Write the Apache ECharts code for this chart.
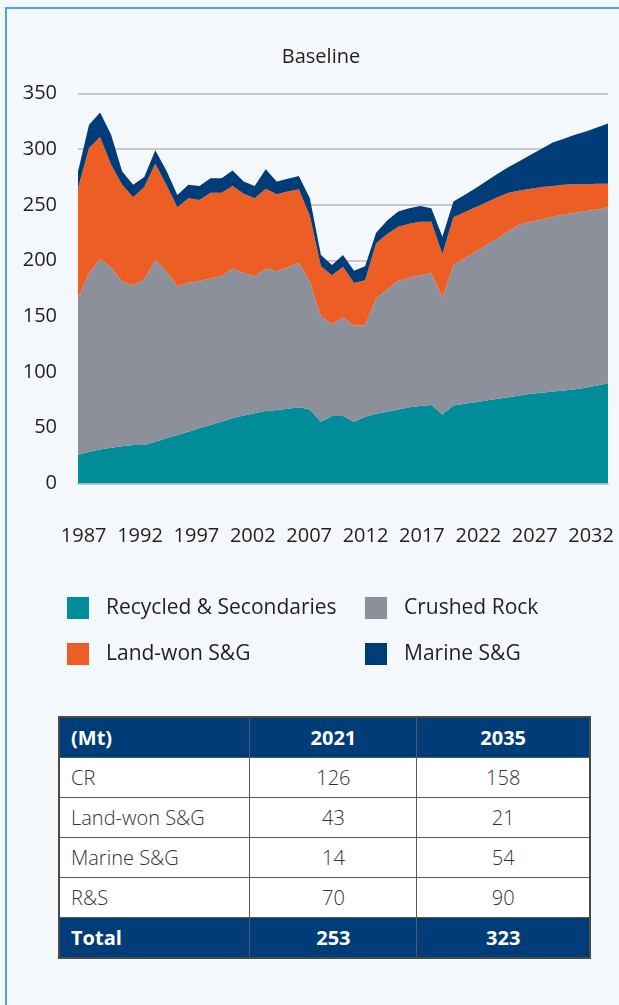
<!DOCTYPE html>
<html>
<head>
<meta charset="utf-8">
<script src="https://cdn.jsdelivr.net/npm/echarts@6/dist/echarts.min.js"></script>
<style>
  html, body { margin: 0; padding: 0; background: #f4f8fb; }
  body { width: 619px; height: 1005px; position: relative; overflow: hidden;
         font-family: 'Open Sans', sans-serif; color: #231f20; }
  .frame { position: absolute; left: 5px; top: 7px; right: -10px; bottom: -10px;
           border-left: 2px solid #4ea4da; border-top: 2px solid #4ea4da; }
  #chart { position: absolute; left: 0; top: 0; width: 619px; height: 700px; }
  table { position: absolute; left: 58px; top: 716px; width: 533px;
          border-collapse: collapse; border: 2px solid #4a4a4a; font-size: 20px; }
  td, th { border: 1.5px solid #5a5a5a; height: 39px; padding: 0 11px; background: #fff;
           font-weight: 300; color: #333; text-align: center; }
  td:first-child, th:first-child { text-align: left; }
  tr.head td, tr.total td { background: #003c78; color: #fff; font-weight: 700; }
</style>
</head>
<body>
<div class="frame"></div>
<div id="chart"></div>
<table id="tbl"></table>
<script>
// hidden data axis: one point per year, edge to edge
const years = ['1987','1988','1989','1990','1991','1992','1993','1994','1995','1996',
  '1997','1998','1999','2000','2001','2002','2003','2004','2005','2006',
  '2007','2008','2009','2010','2011','2012','2013','2014','2015','2016',
  '2017','2018','2019','2020','2021','2022','2023','2024','2025','2026',
  '2027','2028','2029','2030','2031','2032','2033','2034','2035'];

// visible label axis (labels sit between the yearly points)
const axisYears = ['1987','1988','1989','1990','1991','1992','1993','1994','1995','1996',
  '1997','1998','1999','2000','2001','2002','2003','2004','2005','2006',
  '2007','2008','2009','2010','2011','2012','2013','2014','2015','2016',
  '2017','2018','2019','2020','2021','2022','2023','2024','2025','2026',
  '2027','2028','2029','2030','2031','2032','2033'];

const recycled = [25.6, 28.5, 30.5, 32, 33.5, 34.6, 34.6, 37.5, 40.5, 43.5,
  46.5, 49.5, 52.5, 55.5, 58.5, 61, 63, 65, 66, 67,
  68.5, 66.5, 55.5, 60.5, 60.5, 55.5, 60, 62.5, 64.5, 66.5,
  68.5, 69.5, 70.5, 62, 70, 71.5, 73, 74.5, 76, 77.5,
  79, 80.5, 81.5, 82.5, 83.5, 84.5, 86, 88, 90];

const crushed = [140.4, 160.5, 171, 162, 147.5, 143.4, 148.4, 163, 150.5, 133.5,
  133.5, 132.5, 131.5, 130.5, 134.5, 128, 123, 128, 124.5, 127,
  129.5, 114.5, 94.5, 82.5, 88.5, 86, 82, 103.5, 109.5, 115.5,
  116, 117.5, 118.5, 105, 126, 130.5, 135, 139.5, 144, 149,
  153.5, 154.5, 155.5, 157, 158, 158.5, 158.5, 158, 158];

const landWon = [99, 112, 109.5, 92, 87, 79, 83, 86.5, 77, 71,
  76, 72.5, 77, 75, 74, 71, 70, 71.5, 69, 68,
  66, 59, 45, 44, 45.5, 38.5, 40.5, 49.5, 50, 48.5,
  48.5, 48, 46, 39, 43, 41.5, 40, 38.5, 37, 34.5,
  30.5, 29.5, 29, 27.5, 26.5, 25.5, 24, 23, 21];

const marine = [15, 21, 22, 27, 12, 11, 9, 12, 13, 11,
  12, 12.5, 13, 13, 14, 11, 11, 17.5, 11.5, 11.5,
  12, 16, 10, 9, 10.5, 11, 12.5, 9.5, 12, 13.5,
  14, 14, 12, 15.5, 14, 15.5, 17, 19, 21, 23,
  26.5, 30.5, 34.5, 39, 41.5, 44.5, 47.5, 50.5, 54];

const tableHeader = ['(Mt)', '2021', '2035'];
const tableRows = [
  ['CR', 126, 158],
  ['Land-won S&G', 43, 21],
  ['Marine S&G', 14, 54],
  ['R&S', 70, 90]
];
const tableTotal = ['Total', 253, 323];

const FONT = "'Open Sans', sans-serif";
const TEXT = '#231f20';
const GRID = '#c9c9c9';

const chart = echarts.init(document.getElementById('chart'));

function areaSeries(name, data, color) {
  return {
    name, type: 'line', xAxisIndex: 1, stack: 'total', data,
    symbol: 'none', color,
    lineStyle: { width: 0 },
    areaStyle: { color, opacity: 1 }
  };
}

function legendCol(names, left) {
  return {
    data: names, left, top: 592, orient: 'vertical',
    icon: 'rect', itemWidth: 22, itemHeight: 22, itemGap: 24,
    selectedMode: false,
    textStyle: { fontSize: 21, color: TEXT, fontFamily: FONT, padding: [0, 0, 0, 12] }
  };
}

chart.setOption({
  animation: false,
  title: {
    text: 'Baseline', left: 316, top: 42, textAlign: 'center',
    textStyle: { fontSize: 20, fontWeight: 'normal', color: TEXT, fontFamily: FONT }
  },
  grid: { left: 78, right: 11, top: 93.5, bottom: 216.5 },
  legend: [
    legendCol(['Recycled & Secondaries', 'Land-won S&G'], 62),
    legendCol(['Crushed Rock', 'Marine S&G'], 360)
  ],
  xAxis: [
    {
      type: 'category', data: axisYears, boundaryGap: true,
      axisLine: { lineStyle: { color: GRID, width: 2 } },
      axisTick: { interval: 4, alignWithLabel: true, length: 26, lineStyle: { color: GRID, width: 2 } },
      axisLabel: { interval: 4, margin: 43, fontSize: 20, color: TEXT, fontFamily: FONT }
    },
    { type: 'category', data: years, boundaryGap: false, show: false }
  ],
  yAxis: {
    type: 'value', min: 0, max: 350, interval: 50,
    axisLine: { show: false }, axisTick: { show: false },
    axisLabel: { fontSize: 20, margin: 21, color: TEXT, fontFamily: FONT },
    splitLine: { lineStyle: { color: GRID, width: 2 } }
  },
  series: [
    areaSeries('Recycled & Secondaries', recycled, '#008c99'),
    areaSeries('Crushed Rock', crushed, '#8b909b'),
    areaSeries('Land-won S&G', landWon, '#ec5e24'),
    areaSeries('Marine S&G', marine, '#003c78')
  ]
});

// table below the chart
const tbl = document.getElementById('tbl');
function addRow(cells, cls) {
  const tr = document.createElement('tr');
  if (cls) tr.className = cls;
  cells.forEach((c, i) => {
    const td = document.createElement('td');
    td.textContent = c;
    td.style.width = ['192px', '167px', '174px'][i];
    tr.appendChild(td);
  });
  tbl.appendChild(tr);
}
addRow(tableHeader, 'head');
tableRows.forEach(r => addRow(r));
addRow(tableTotal, 'total');
</script>
</body>
</html>
